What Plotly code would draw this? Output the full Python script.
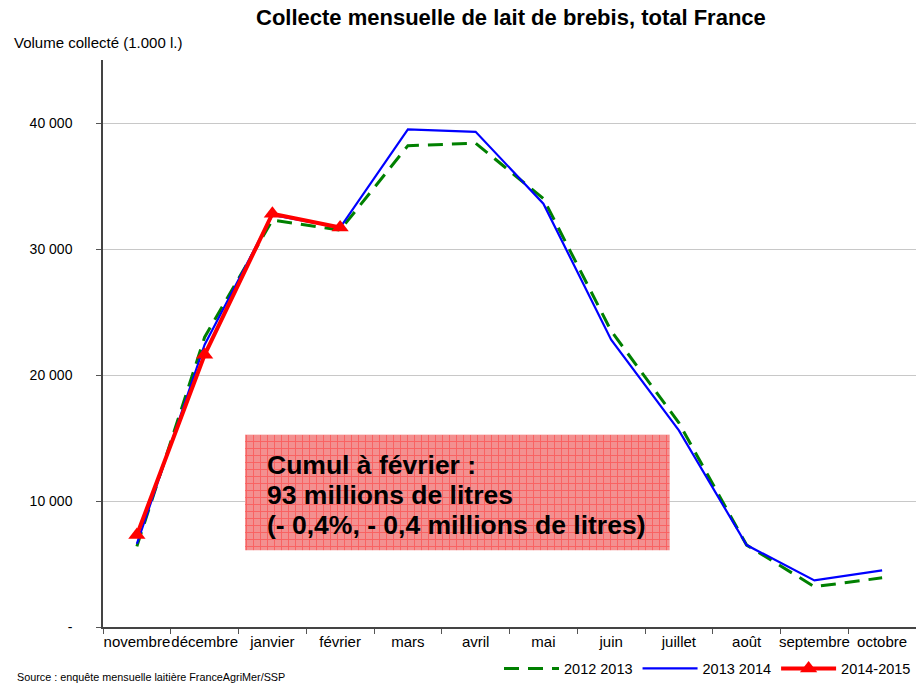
import plotly.graph_objects as go

months = ["novembre", "décembre", "janvier", "février", "mars", "avril",
          "mai", "juin", "juillet", "août", "septembre", "octobre"]
s_2012_2013 = [6400, 23000, 32300, 31500, 38200, 38400, 34000, 23500, 16200, 6500, 3200, 3900]
s_2013_2014 = [6600, 22400, 32700, 31700, 39500, 39300, 33600, 22800, 15600, 6500, 3700, 4500]
s_2014_2015 = [7300, 21600, 32800, 31700]
ytick_vals = [0, 10000, 20000, 30000, 40000]
ytick_text = ["-", "10 000", "20 000", "30 000", "40 000"]
note_lines = ["Cumul à février :", "93 millions de litres", "(- 0,4%, - 0,4 millions de litres)"]

FONT = "Liberation Sans, Arial, sans-serif"

fig = go.Figure()

# Annotation box with a grid pattern (paper-like overlay axes)
bx0, bx1, by0, by1 = 0.1747, 0.697, 6100, 15250
fig.add_trace(go.Scatter(x=[bx0, bx1, bx1, bx0, bx0], y=[by0, by0, by1, by1, by0],
                         xaxis="x2", yaxis="y2", mode="lines", fill="toself",
                         line=dict(width=0, color="rgba(0,0,0,0)"),
                         fillcolor="#F28888",
                         fillpattern=dict(shape="+", bgcolor="#F39090", fgcolor="#FF3030",
                                          size=7, solidity=0.25),
                         showlegend=False, hoverinfo="skip"))

fig.add_trace(go.Scatter(x=months, y=s_2012_2013, mode="lines", name="2012 2013",
                         line=dict(color="#008000", width=3, dash="15px,9px")))
fig.add_trace(go.Scatter(x=months, y=s_2013_2014, mode="lines", name="2013 2014",
                         line=dict(color="#0000FF", width=2.2)))
fig.add_trace(go.Scatter(x=months[:len(s_2014_2015)], y=s_2014_2015, mode="lines+markers",
                         name="2014-2015",
                         line=dict(color="#FF0000", width=4),
                         marker=dict(symbol="triangle-up", size=15, color="#FF0000")))

for i, t in enumerate(note_lines):
    fig.add_annotation(xref="paper", yref="paper", x=(265 - 103) / 813,
                       y=(627 - (465 + 30 * i)) / 567, xanchor="left", yanchor="middle",
                       text="<b>" + t + "</b>", showarrow=False, align="left",
                       font=dict(family=FONT, size=26.5, color="black"))

fig.add_annotation(xref="paper", yref="paper", x=(511 - 103) / 813, y=1, yanchor="middle",
                   text="<b>Collecte mensuelle de lait de brebis, total France</b>",
                   showarrow=False, font=dict(family=FONT, size=22, color="black"),
                   xanchor="center", yshift=43)
fig.add_annotation(xref="paper", yref="paper", x=(12 - 103) / 813, y=1, xanchor="left",
                   yanchor="middle", text="Volume collecté (1.000 l.)", showarrow=False,
                   yshift=18, font=dict(family=FONT, size=15, color="black"))
fig.add_annotation(xref="paper", yref="paper", x=(15 - 103) / 813, y=0, xanchor="left",
                   yanchor="middle",
                   text="Source : enquête mensuelle laitière FranceAgriMer/SSP", showarrow=False,
                   yshift=-50, font=dict(family=FONT, size=10.8, color="black"))

fig.update_layout(
    width=916, height=685,
    margin=dict(l=103, r=0, t=60, b=58, autoexpand=False),
    paper_bgcolor="white", plot_bgcolor="white",
    font=dict(family=FONT, size=14, color="black"),
    showlegend=True,
    legend=dict(orientation="h", x=1, xanchor="right", y=-0.045, yanchor="top",
                font=dict(family=FONT, size=14.5), bgcolor="rgba(0,0,0,0)",
                itemwidth=55, tracegroupgap=0),
    xaxis=dict(type="category", range=[-0.5, 11.5], tickson="boundaries",
               ticks="outside", ticklen=5, tickcolor="#555", showline=True,
               linecolor="#444", linewidth=1.5, showgrid=False, tickangle=0,
               tickfont=dict(family=FONT, size=15)),
    yaxis=dict(range=[0, 45000], tickvals=ytick_vals, ticktext=ytick_text,
               ticks="outside", ticklen=5, tickcolor="#555", showline=True,
               linecolor="#444", linewidth=1.5, showgrid=True, gridcolor="#C8C8C8",
               gridwidth=1, zeroline=False, tickfont=dict(family=FONT, size=14),
               ticklabelstandoff=21),
    xaxis2=dict(overlaying="x", range=[0, 1], visible=False),
    yaxis2=dict(overlaying="y", range=[0, 45000], visible=False),
)

fig.write_html("out.html", config={"displayModeBar": False})

# remove the default page margin so the figure sits at the window's top-left corner
with open("out.html", "r", encoding="utf-8") as f:
    html = f.read()
html = html.replace("<head>", "<head><style>html,body{margin:0;padding:0;overflow:hidden;}</style>", 1)
with open("out.html", "w", encoding="utf-8") as f:
    f.write(html)
